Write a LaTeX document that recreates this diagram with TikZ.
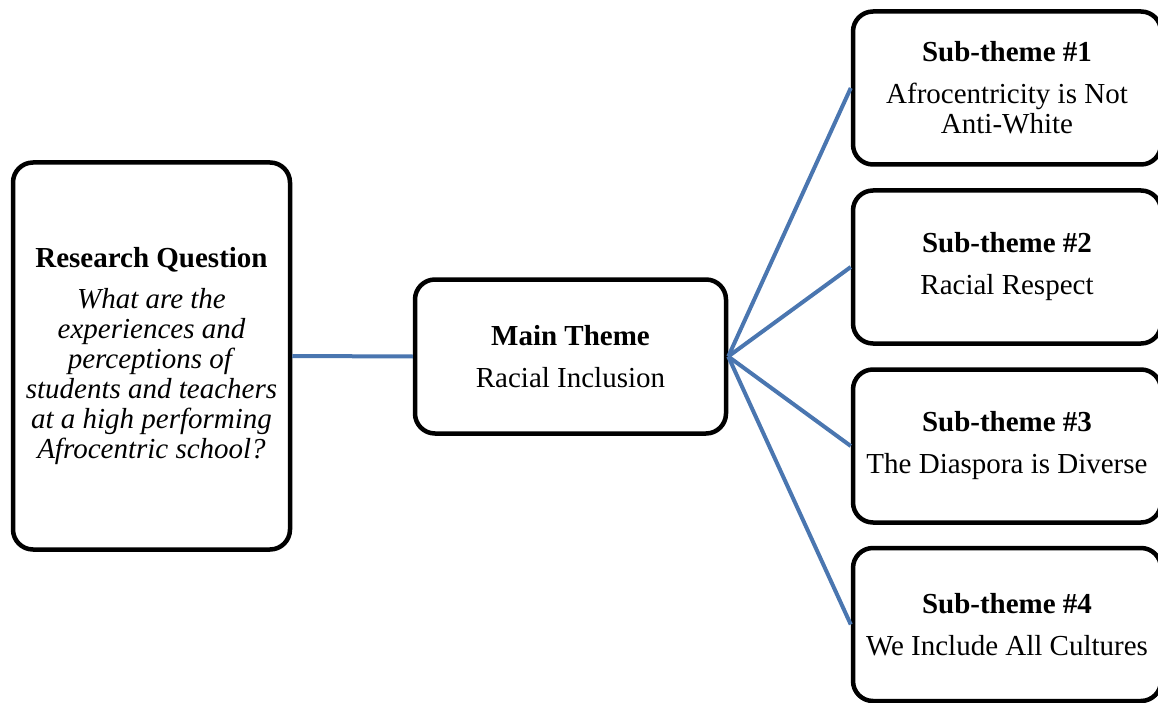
\documentclass[tikz,border=0pt]{standalone}
\usepackage{fontspec}
\setmainfont{Liberation Serif}
\definecolor{linkblue}{HTML}{4A76B0}
\begin{document}
\begin{tikzpicture}[x=1pt,y=-1pt,
  box/.style={draw=black, line width=4.5pt, rounded corners=20pt, fill=white,
    rectangle, inner sep=0pt, align=center,
    font=\fontsize{29}{30}\selectfont},
  link/.style={draw=linkblue, line width=4pt}]
\useasboundingbox (0,0) rectangle (1158,703);
\node[box, minimum width=277pt, minimum height=387pt] (rq) at (151.5,356)
  {\textbf{Research Question}\\[11pt]
   \textit{What are the}\\ \textit{experiences and}\\ \textit{perceptions of}\\
   \textit{students and teachers}\\ \textit{at a high performing}\\ \textit{Afrocentric school?}};
\node[box, minimum width=311pt, minimum height=154pt] (main) at (570.5,356.5)
  {\textbf{Main Theme}\\[12pt] Racial Inclusion};
\node[box, minimum width=308pt, minimum height=153pt] (s1) at (1007,88)
  {\textbf{Sub-theme \#1}\\[12pt] Afrocentricity is Not\\ Anti-White};
\node[box, minimum width=308pt, minimum height=153pt] (s2) at (1007,267)
  {\textbf{Sub-theme \#2}\\[12pt] Racial Respect};
\node[box, minimum width=308pt, minimum height=153pt] (s3) at (1007,446)
  {\textbf{Sub-theme \#3}\\[12pt] The Diaspora is Diverse};
\node[box, minimum width=308pt, minimum height=153pt] (s4) at (1007,624.5)
  {\textbf{Sub-theme \#4}\\[12pt] We Include All Cultures};
\draw[link] (rq.east) -- (main.west);
\draw[link] (main.east) -- (s1.west);
\draw[link] (main.east) -- (s2.west);
\draw[link] (main.east) -- (s3.west);
\draw[link] (main.east) -- (s4.west);
\end{tikzpicture}
\end{document}
